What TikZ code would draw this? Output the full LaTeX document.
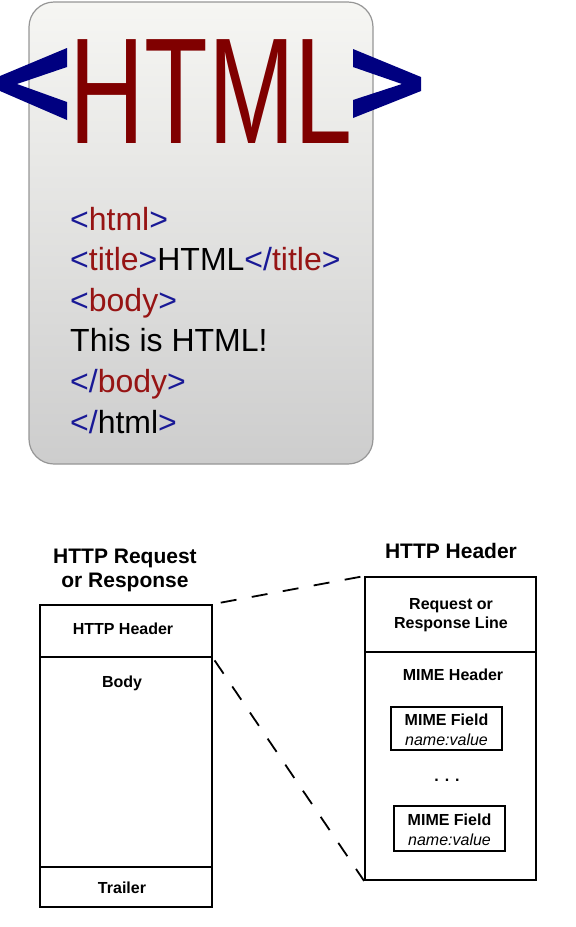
\documentclass[tikz,border=0pt]{standalone}
\usepackage{fontspec}
\setmainfont{Liberation Sans}
\definecolor{cardtop}{RGB}{246,246,243}
\definecolor{cardbot}{RGB}{205,205,205}
\definecolor{cardedge}{RGB}{150,150,150}
\definecolor{bigred}{RGB}{128,0,0}
\definecolor{bigblue}{RGB}{0,0,128}
\definecolor{cred}{RGB}{150,20,20}
\definecolor{cblue}{RGB}{25,25,150}
\begin{document}
\begin{tikzpicture}[x=1pt,y=-1pt,
  code/.style={anchor=base west, inner sep=0pt, font=\fontsize{32}{32}\selectfont},
  part/.style={draw, line width=1.8pt, inner sep=0pt},
  field/.style={draw, line width=1.6pt, inner sep=0pt, minimum width=111pt},
  lbl/.style={anchor=base, inner sep=0pt, font=\bfseries\fontsize{16}{16}\selectfont},
  ttl/.style={anchor=base, inner sep=0pt, font=\bfseries\fontsize{21}{21}\selectfont},
  val/.style={anchor=base, inner sep=0pt, font=\itshape\fontsize{16}{16}\selectfont},
  zoomline/.style={line width=1.8pt, dash pattern=on 16pt off 15.5pt}]
\useasboundingbox (0,0) rectangle (576,927);
% card
\shadedraw[top color=cardtop, bottom color=cardbot, draw=cardedge, line width=1.2pt, rounded corners=25pt] (29,2) rectangle (373,464);
% big logo
\fill[bigblue] (67,48) -- (0,76) -- (0,91) -- (67,120) -- (67,102) -- (17,84) -- (67,67) -- cycle;
\fill[bigblue] (353,49) -- (421,77) -- (421,91) -- (353,118) -- (353,100) -- (402,84) -- (353,67) -- cycle;
\node[anchor=base, inner sep=0pt, text=bigred] (logo) at (211,143) {\scalebox{0.69}[1]{\fontsize{151}{151}\selectfont HTML}};
% code lines
\node[code] (l1) at (70,230) {\color{cblue}<\color{cred}html\color{cblue}>};
\node[code] (l2) at (70,270.6) {\color{cblue}<\color{cred}title\color{cblue}>\color{black}HTML\color{cblue}</\color{cred}title\color{cblue}>};
\node[code] (l3) at (70,311.2) {\color{cblue}<\color{cred}body\color{cblue}>};
\node[code] (l4) at (70,351.8) {\color{black}This is HTML!};
\node[code] (l5) at (70,392.4) {\color{cblue}</\color{cred}body\color{cblue}>};
\node[code] (l6) at (70,433) {\color{cblue}</\color{black}html\color{cblue}>};
% left structure
\node[ttl] (t1a) at (125,563) {HTTP Request};
\node[ttl] (t1b) at (125,587) {or Response};
\node[part, minimum width=172pt, minimum height=52pt] (hdr) at (126,631) {};
\node[part, minimum width=172pt, minimum height=210pt] (body) at (126,762) {};
\node[part, minimum width=172pt, minimum height=40pt] (trailer) at (126,887) {};
\node[lbl] (hdrtxt) at (123,634) {HTTP Header};
\node[lbl] (bodytxt) at (122,687) {Body};
\node[lbl] (trailtxt) at (122,893) {Trailer};
% right structure
\node[ttl] (t2) at (451,558) {HTTP Header};
\node[part, minimum width=171pt, minimum height=75pt] (rl) at (450.5,614.5) {};
\node[part, minimum width=171pt, minimum height=228pt] (mime) at (450.5,766) {};
\node[lbl] (rla) at (451,609) {Request or};
\node[lbl] (rlb) at (451,628) {Response Line};
\node[lbl] (mimetxt) at (453,680) {MIME Header};
\node[field, minimum height=43pt] (mf1) at (446.5,728.5) {};
\node[lbl] (mf1a) at (446.5,725) {MIME Field};
\node[val] (mf1b) at (446.5,745) {name:value};
\node[lbl] (dots) at (447,781) {.\hspace{6pt}.\hspace{6pt}.};
\node[field, minimum height=45pt] (mf2) at (449.5,828.5) {};
\node[lbl] (mf2a) at (449.5,825) {MIME Field};
\node[val] (mf2b) at (449.5,845) {name:value};
% zoom connectors
\draw[zoomline, dash phase=23.5pt] (hdr.north east) -- (rl.north west);
\draw[zoomline, dash phase=28.5pt] (hdr.south east) -- (mime.south west);
\end{tikzpicture}
\end{document}
